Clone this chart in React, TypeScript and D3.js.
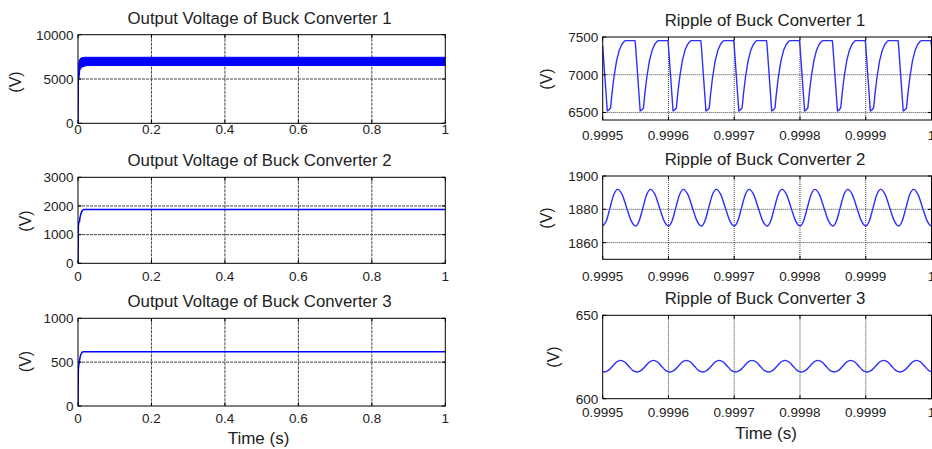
import React from 'react';
import * as d3 from 'd3';

// ---------- data ----------
const leftXTicks = [0, 0.2, 0.4, 0.6, 0.8, 1];
const leftXTickLabels = ['0', '0.2', '0.4', '0.6', '0.8', '1'];
const rightXTicks = [0.9995, 0.9996, 0.9997, 0.9998, 0.9999, 1];
const rightXTickLabels = ['0.9995', '0.9996', '0.9997', '0.9998', '0.9999', '1'];

const conv1YTicks = [0, 5000, 10000];
const conv2YTicks = [0, 1000, 2000, 3000];
const conv3YTicks = [0, 500, 1000];
const ripple1YTicks = [6500, 7000, 7500];
const ripple2YTicks = [1860, 1880, 1900];
const ripple3YTicks = [600, 650];

const titles = [
  'Output Voltage of Buck Converter 1',
  'Output Voltage of Buck Converter 2',
  'Output Voltage of Buck Converter 3',
  'Ripple of Buck Converter 1',
  'Ripple of Buck Converter 2',
  'Ripple of Buck Converter 3',
];

// Converter 1: ripple band envelope during start-up and steady state
const conv1Time = [0, 0.001, 0.0025, 0.005, 0.008, 0.012, 0.018, 0.025, 1];
const conv1Upper = [0, 5000, 6900, 7250, 7350, 7420, 7450, 7450, 7450];
const conv1Lower = [0, 4900, 5000, 6000, 6200, 6350, 6450, 6520, 6520];

// Converter 2 start-up
const conv2Time = [0, 0.0005, 0.001, 0.002, 0.004, 0.0055, 0.008, 0.01, 0.013, 0.016, 1];
const conv2Volt = [0, 700, 1300, 1420, 1450, 1600, 1730, 1800, 1860, 1880, 1880];

// Converter 3 start-up
const conv3Time = [0, 0.0005, 0.001, 0.002, 0.0035, 0.005, 0.007, 0.01, 0.014, 1];
const conv3Volt = [0, 250, 420, 460, 500, 540, 580, 605, 620, 620];

// Ripple windows: switching-cycle start times and one cycle's shape (offset in microseconds)
const rippleCycleStarts = [0.9995, 0.99955, 0.9996, 0.99965, 0.9997, 0.99975, 0.9998, 0.99985, 0.9999, 0.99995, 1.0];

const ripple1OffsetUs = [0, 7, 9.5, 12, 14, 17, 21, 25, 29, 33, 35, 49.2];
const ripple1Volt = [7380, 6520, 6535, 6560, 6740, 6960, 7180, 7320, 7400, 7445, 7452, 7452];

const ripple2OffsetUs = [0, 5.6, 11.2, 16.8, 22.8, 29.6, 36.4, 43.2];
const ripple2Volt = [1870, 1873.2, 1881, 1888.8, 1892, 1888.8, 1881, 1873.2];

const ripple3OffsetUs = [0, 2, 8.5, 15, 21, 27, 33.5, 39.5, 45.5];
const ripple3Volt = [616.2, 616, 617, 619.5, 622, 623, 622, 619.5, 617];

// ---------- helpers ----------
const tile = (offsets: number[], volts: number[]): [number, number][] =>
  rippleCycleStarts.flatMap((t0) => offsets.map((o, i) => [t0 + o * 1e-6, volts[i]] as [number, number]));

const zip = (a: number[], b: number[]): [number, number][] => a.map((v, i) => [v, b[i]]);

const FONT = "'Liberation Sans', Arial, Helvetica, sans-serif";
const BLUE = '#0000ff';
const RBLUE = '#2e2eff';

type PanelCfg = {
  id: string;
  left: number;
  right: number;
  top: number;
  bottom: number;
  xDomain: [number, number];
  yDomain: [number, number];
  xTicks: number[];
  xLabels: string[];
  yTicks: number[];
  title: string;
  titleX: number;
  xLabelOffset: number;
  yLabelX: number;
  yLabelY: number;
  gridDash: string;
  gridColor: string;
  xTitle?: { x: number; y: number };
  draw: (xs: d3.ScaleLinear<number, number>, ys: d3.ScaleLinear<number, number>) => React.ReactNode;
};

const Panel: React.FC<{ cfg: PanelCfg }> = ({ cfg }) => {
  const xs = d3.scaleLinear().domain(cfg.xDomain).range([cfg.left, cfg.right]);
  const ys = d3.scaleLinear().domain(cfg.yDomain).range([cfg.bottom, cfg.top]);
  const tl = 3.5;
  const innerX = cfg.xTicks.filter((t) => t > cfg.xDomain[0] + 1e-12 && t < cfg.xDomain[1] - 1e-12);
  const innerY = cfg.yTicks.filter((t) => t > cfg.yDomain[0] && t < cfg.yDomain[1]);
  return (
    <g>
      <defs>
        <clipPath id={`clip-${cfg.id}`}>
          <rect x={cfg.left} y={cfg.top} width={cfg.right - cfg.left} height={cfg.bottom - cfg.top} />
        </clipPath>
      </defs>
      {/* grid */}
      {innerX.map((t) => (
        <line key={`gx${t}`} x1={xs(t)} x2={xs(t)} y1={cfg.top} y2={cfg.bottom} stroke={cfg.gridColor} strokeWidth={1} strokeDasharray={cfg.gridDash} />
      ))}
      {innerY.map((t) => (
        <line key={`gy${t}`} x1={cfg.left} x2={cfg.right} y1={ys(t)} y2={ys(t)} stroke={cfg.gridColor} strokeWidth={1} strokeDasharray={cfg.gridDash} />
      ))}
      {/* data */}
      <g clipPath={`url(#clip-${cfg.id})`}>{cfg.draw(xs, ys)}</g>
      {/* box */}
      <rect x={cfg.left} y={cfg.top} width={cfg.right - cfg.left} height={cfg.bottom - cfg.top} fill="none" stroke="#000" strokeWidth={1} />
      {/* inner ticks */}
      {cfg.xTicks.map((t) => (
        <g key={`tx${t}`}>
          <line x1={xs(t)} x2={xs(t)} y1={cfg.bottom} y2={cfg.bottom - tl} stroke="#000" strokeWidth={1} />
          <line x1={xs(t)} x2={xs(t)} y1={cfg.top} y2={cfg.top + tl} stroke="#000" strokeWidth={1} />
        </g>
      ))}
      {cfg.yTicks.map((t) => (
        <g key={`ty${t}`}>
          <line x1={cfg.left} x2={cfg.left + tl} y1={ys(t)} y2={ys(t)} stroke="#000" strokeWidth={1} />
          <line x1={cfg.right} x2={cfg.right - tl} y1={ys(t)} y2={ys(t)} stroke="#000" strokeWidth={1} />
        </g>
      ))}
      {/* tick labels */}
      {cfg.xTicks.map((t, i) => (
        <text key={`lx${t}`} x={xs(t)} y={cfg.bottom + cfg.xLabelOffset} textAnchor="middle" fontSize={13.5} fontFamily={FONT} fill="#222">
          {cfg.xLabels[i]}
        </text>
      ))}
      {cfg.yTicks.map((t) => (
        <text key={`ly${t}`} x={cfg.left - 4.5} y={ys(t)} dy="0.36em" textAnchor="end" fontSize={13.5} fontFamily={FONT} fill="#222">
          {String(t)}
        </text>
      ))}
      {/* title */}
      <text x={cfg.titleX} y={cfg.top - 11} textAnchor="middle" fontSize={16.8} fontFamily={FONT} fill="#222">
        {cfg.title}
      </text>
      {/* y label */}
      <text
        transform={`translate(${cfg.yLabelX},${cfg.yLabelY}) rotate(-90)`}
        dy="0.35em"
        textAnchor="middle"
        fontSize={16}
        fontFamily={FONT}
        fill="#222"
      >
        (V)
      </text>
      {cfg.xTitle && (
        <text x={cfg.xTitle.x} y={cfg.xTitle.y} textAnchor="middle" fontSize={17} fontFamily={FONT} fill="#222">
          Time (s)
        </text>
      )}
    </g>
  );
};

const lineOf = (
  xs: d3.ScaleLinear<number, number>,
  ys: d3.ScaleLinear<number, number>,
  pts: [number, number][],
  curve: d3.CurveFactory = d3.curveLinear
) =>
  d3
    .line<[number, number]>()
    .x((d) => xs(d[0]))
    .y((d) => ys(d[1]))
    .curve(curve)(pts) || '';

export default function App() {
  const L = { left: 78, right: 445.3 };
  const R = { left: 602.7, right: 931.5 };
  const panels: PanelCfg[] = [
    {
      id: 'c1', ...L, top: 34.7, bottom: 123.3, xDomain: [0, 1], yDomain: [0, 10000],
      xTicks: leftXTicks, xLabels: leftXTickLabels, yTicks: conv1YTicks, title: titles[0], titleX: 259.5,
      xLabelOffset: 10.2, yLabelX: 15.5, yLabelY: 82, gridDash: '3,1', gridColor: '#444',
      draw: (xs, ys) => {
        const pts = conv1Time.map((t, i) => ({ t, lo: conv1Lower[i], hi: conv1Upper[i] }));
        const area = d3
          .area<{ t: number; lo: number; hi: number }>()
          .x((d) => xs(d.t))
          .y0((d) => ys(d.lo))
          .y1((d) => ys(d.hi))(pts) || '';
        return <path d={area} fill={BLUE} stroke={BLUE} strokeWidth={1} />;
      },
    },
    {
      id: 'c2', ...L, top: 177.3, bottom: 263.3, xDomain: [0, 1], yDomain: [0, 3000],
      xTicks: leftXTicks, xLabels: leftXTickLabels, yTicks: conv2YTicks, title: titles[1], titleX: 259.5,
      xLabelOffset: 17.7, yLabelX: 25, yLabelY: 221, gridDash: '3,1', gridColor: '#444',
      draw: (xs, ys) => <path d={lineOf(xs, ys, zip(conv2Time, conv2Volt))} fill="none" stroke={BLUE} strokeWidth={1.5} />,
    },
    {
      id: 'c3', ...L, top: 318.3, bottom: 406, xDomain: [0, 1], yDomain: [0, 1000],
      xTicks: leftXTicks, xLabels: leftXTickLabels, yTicks: conv3YTicks, title: titles[2], titleX: 259.5,
      xLabelOffset: 17.3, yLabelX: 25, yLabelY: 361.5, gridDash: '3,1', gridColor: '#444',
      xTitle: { x: 258.5, y: 444 },
      draw: (xs, ys) => <path d={lineOf(xs, ys, zip(conv3Time, conv3Volt))} fill="none" stroke={BLUE} strokeWidth={1.5} />,
    },
    {
      id: 'r1', ...R, top: 37, bottom: 120, xDomain: [0.9995, 1], yDomain: [6400, 7500],
      xTicks: rightXTicks, xLabels: rightXTickLabels, yTicks: ripple1YTicks, title: titles[3], titleX: 765,
      xLabelOffset: 19.5, yLabelX: 546, yLabelY: 79, gridDash: '1,1', gridColor: '#444',
      draw: (xs, ys) => (
        <path d={lineOf(xs, ys, tile(ripple1OffsetUs, ripple1Volt))} fill="none" stroke={RBLUE} strokeWidth={1.4} strokeLinejoin="round" />
      ),
    },
    {
      id: 'r2', ...R, top: 176, bottom: 259.3, xDomain: [0.9995, 1], yDomain: [1850, 1900],
      xTicks: rightXTicks, xLabels: rightXTickLabels, yTicks: ripple2YTicks, title: titles[4], titleX: 765,
      xLabelOffset: 21.4, yLabelX: 546, yLabelY: 218, gridDash: '1,1', gridColor: '#444',
      draw: (xs, ys) => (
        <path d={lineOf(xs, ys, tile(ripple2OffsetUs, ripple2Volt), d3.curveMonotoneX)} fill="none" stroke={RBLUE} strokeWidth={1.4} />
      ),
    },
    {
      id: 'r3', ...R, top: 315.3, bottom: 398.7, xDomain: [0.9995, 1], yDomain: [600, 650],
      xTicks: rightXTicks, xLabels: rightXTickLabels, yTicks: ripple3YTicks, title: titles[5], titleX: 765,
      xLabelOffset: 18.6, yLabelX: 553, yLabelY: 357, gridDash: '1,1', gridColor: '#444',
      xTitle: { x: 766, y: 439 },
      draw: (xs, ys) => (
        <path d={lineOf(xs, ys, tile(ripple3OffsetUs, ripple3Volt), d3.curveMonotoneX)} fill="none" stroke={RBLUE} strokeWidth={1.4} />
      ),
    },
  ];

  return (
    <svg
      width={932}
      height={449}
      viewBox="0 0 932 449"
      style={{ position: 'absolute', left: 0, top: 0, background: '#fff', display: 'block' }}
    >
      <rect x={0} y={0} width={932} height={449} fill="#fff" />
      {panels.map((p) => (
        <Panel key={p.id} cfg={p} />
      ))}
    </svg>
  );
}
